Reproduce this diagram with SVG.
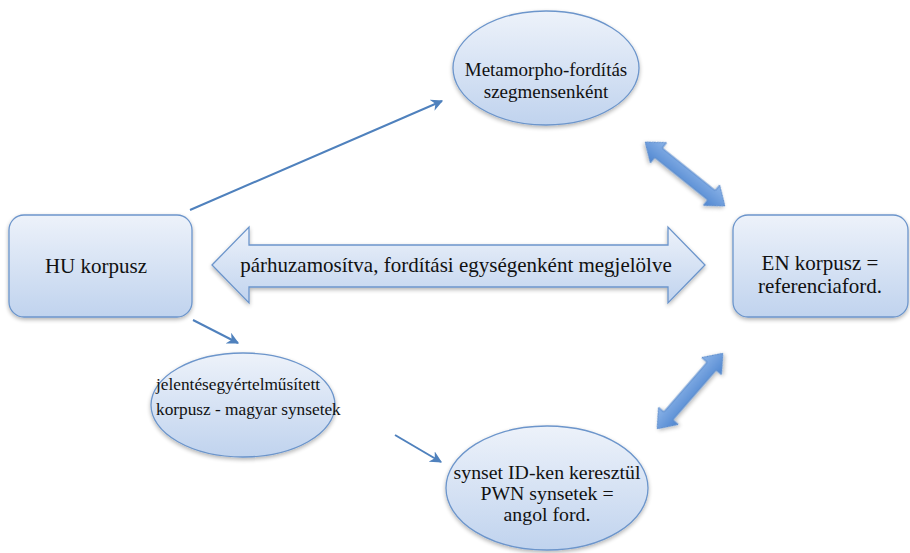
<svg xmlns="http://www.w3.org/2000/svg" width="910" height="553" viewBox="0 0 910 553">
<defs>
<linearGradient id="nodeFill" x1="0" y1="0" x2="0" y2="1">
<stop offset="0" stop-color="#edf2fa"/>
<stop offset="1" stop-color="#c0d3ee"/>
</linearGradient>
<linearGradient id="blockFill" x1="0" y1="0" x2="0" y2="1">
<stop offset="0" stop-color="#8cb4e8"/>
<stop offset="1" stop-color="#4f86d0"/>
</linearGradient>
<filter id="shadow" x="-10%" y="-10%" width="125%" height="130%">
<feGaussianBlur in="SourceAlpha" stdDeviation="2"/>
<feOffset dx="0" dy="2" result="b"/>
<feComponentTransfer><feFuncA type="linear" slope="0.3"/></feComponentTransfer>
<feMerge><feMergeNode/><feMergeNode in="SourceGraphic"/></feMerge>
</filter>
<marker id="arr" viewBox="0 0 10 10" refX="9" refY="5" markerWidth="6" markerHeight="6" orient="auto" markerUnits="strokeWidth">
<path d="M0,0 L10,5 L0,10 L3,5 z" fill="#4f81bd"/>
</marker>
</defs>
<style>
.node { fill: url(#nodeFill); stroke: #6c95cb; stroke-width: 1.3; filter: url(#shadow); }
.lbl { font-family: "Liberation Serif", "Times New Roman", serif; font-size: 19px; fill: #111; text-anchor: middle; }
.big-t { font-size: 21px; }
.thin { stroke: #4f81bd; stroke-width: 2; fill: none; marker-end: url(#arr); }
.block { fill: url(#blockFill); stroke: #5a8bcc; stroke-width: 1; filter: url(#shadow); }
</style>
<rect width="910" height="553" fill="#ffffff"/>

<g id="connectors">
<line class="thin" x1="190" y1="210" x2="442" y2="101"/>
<line class="thin" x1="193" y1="320" x2="238" y2="343"/>
<line class="thin" x1="395" y1="435" x2="441" y2="462"/>
<polygon class="block" transform="translate(685,174) rotate(38.7)" points="-51,0 -34,-13 -34,-6 34,-6 34,-13 51,0 34,13 34,6 -34,6 -34,13"/>
<polygon class="block" transform="translate(690,391) rotate(-49)" points="-50,0 -33,-13 -33,-6 33,-6 33,-13 50,0 33,13 33,6 -33,6 -33,13"/>
</g>

<g id="parallel-arrow">
<polygon class="node" points="212,265 249,227 249,245 668,245 668,227 705,265 668,303 668,287 249,287 249,303"/>
<text class="lbl big-t" x="456" y="272">párhuzamosítva, fordítási egységenként megjelölve</text>
</g>

<g id="hu-korpusz">
<rect class="node" x="9" y="215" width="183" height="102" rx="15"/>
<text class="lbl big-t" x="96" y="273">HU korpusz</text>
</g>

<g id="metamorpho">
<ellipse class="node" cx="546" cy="68" rx="93" ry="57"/>
<text class="lbl" x="546" y="76">Metamorpho-fordítás</text>
<text class="lbl" x="546" y="98">szegmensenként</text>
</g>

<g id="en-korpusz">
<rect class="node" x="733" y="215" width="175" height="102" rx="15"/>
<text class="lbl big-t" x="820" y="270">EN korpusz =</text>
<text class="lbl big-t" x="820" y="293">referenciaford.</text>
</g>

<g id="jelentes">
<ellipse class="node" cx="243" cy="405" rx="92" ry="52"/>
<text class="lbl" style="font-size:17.3px;text-anchor:start" x="156" y="390">jelentésegyértelműsített</text>
<text class="lbl" style="font-size:17.3px;text-anchor:start" x="156" y="415">korpusz - magyar synsetek</text>
</g>

<g id="synset">
<ellipse class="node" cx="547" cy="488" rx="101" ry="62"/>
<text class="lbl" style="font-size:19.8px" x="547" y="479">synset ID-ken keresztül</text>
<text class="lbl" style="font-size:19.8px" x="547" y="500">PWN synsetek =</text>
<text class="lbl" style="font-size:19.8px" x="547" y="521">angol ford.</text>
</g>
</svg>
